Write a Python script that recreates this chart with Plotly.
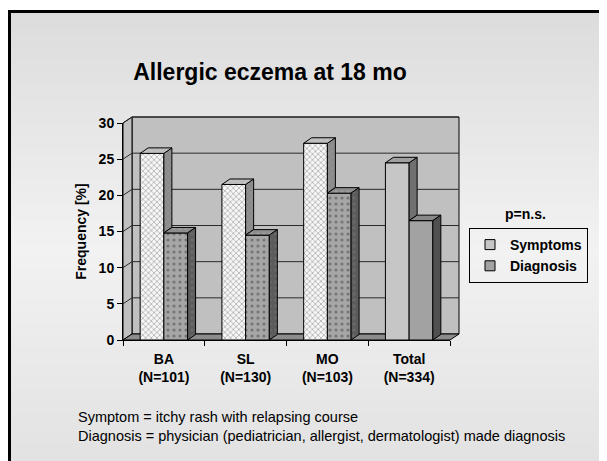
import plotly.graph_objects as go

# ---------------- data ----------------
categories = ["BA", "SL", "MO", "Total"]
n_sizes = [101, 130, 103, 334]
series_names = ["Symptoms", "Diagnosis"]
symptoms = [25.8, 21.5, 27.2, 24.5]
diagnosis = [14.8, 14.5, 20.3, 16.5]
y_ticks = [0, 5, 10, 15, 20, 25, 30]
title_text = "Allergic eczema at 18 mo"
note_text = "p=n.s."
footnotes = ["Symptom = itchy rash with relapsing course",
             "Diagnosis = physician (pediatrician, allergist, dermatologist) made diagnosis"]

# ---------------- geometry / style ----------------
OFF = 8                      # page body margin
W, H = 607 - OFF, 461 - OFF
L, T = 123 - OFF, 123 - OFF  # plot area in figure px
PX1, PY1 = 450 - OFF, 340 - OFF
R, B = W - PX1, H - PY1
PW, PH = PX1 - L, PY1 - T
FONT = "Liberation Sans, Arial, sans-serif"
BAR_W = 0.29
DX = 0.098          # bar depth in x units
DY = 0.76           # bar depth in value units
WALL_DX, WALL_DY = 9, 6   # back wall offset in px
patterned = [True, True, True, False]


def pxx(sx):
    """screen x -> paper x"""
    return (sx - OFF - L) / PW


def pxy(sy):
    """screen y -> paper y"""
    return (PY1 - (sy - OFF)) / PH


def val_sy(v):
    return OFF + PY1 - v / 30.0 * PH


shapes = []


def grey(sy):
    if sy < 250:
        g = 220 + (242 - 220) * (sy - 10) / 240
    else:
        g = 242 + (226 - 242) * (sy - 250) / 211
    g = int(round(g))
    return f"rgb({g},{g},{g})"


step = 6
y0 = 11
while y0 < 461:
    y1 = min(y0 + step, 462)
    shapes.append(dict(type="rect", xref="paper", yref="paper", layer="below",
                       x0=pxx(10), x1=pxx(620), y0=pxy(y0), y1=pxy(y1 + 0.5),
                       fillcolor=grey((y0 + y1) / 2), line=dict(width=0)))
    y0 = y1
# slide border
shapes.append(dict(type="path", xref="paper", yref="paper", layer="below",
                   path=f"M {pxx(9.5)},{pxy(470)} L {pxx(9.5)},{pxy(11.5)} L {pxx(620)},{pxy(11.5)}",
                   line=dict(color="black", width=3)))

fx0, fx1 = 123, 450
fy_top, fy0 = 123, 340
bx0, bx1 = fx0 + WALL_DX, fx1 + WALL_DX
by_top, by0 = fy_top - WALL_DY, fy0 - WALL_DY
wall_col = "#c0c0c0"
shapes.append(dict(type="rect", xref="paper", yref="paper", layer="below",
                   x0=pxx(bx0), x1=pxx(bx1), y0=pxy(by0), y1=pxy(by_top),
                   fillcolor=wall_col, line=dict(color="black", width=1)))
shapes.append(dict(type="path", xref="paper", yref="paper", layer="below",
                   path=(f"M {pxx(fx0)},{pxy(fy0)} L {pxx(fx0)},{pxy(fy_top)} "
                         f"L {pxx(bx0)},{pxy(by_top)} L {pxx(bx0)},{pxy(by0)} Z"),
                   fillcolor=wall_col, line=dict(color="black", width=1)))
shapes.append(dict(type="path", xref="paper", yref="paper", layer="below",
                   path=(f"M {pxx(fx0)},{pxy(fy0)} L {pxx(bx0)},{pxy(by0)} "
                         f"L {pxx(bx1)},{pxy(by0)} L {pxx(fx1)},{pxy(fy0)} Z"),
                   fillcolor="#8c8c8c", line=dict(color="black", width=1)))
for v in y_ticks[1:]:
    sy = val_sy(v)
    shapes.append(dict(type="path", xref="paper", yref="paper", layer="below",
                       path=(f"M {pxx(fx0)},{pxy(sy)} L {pxx(bx0)},{pxy(sy - WALL_DY)} "
                             f"L {pxx(bx1)},{pxy(sy - WALL_DY)}"),
                       line=dict(color="#2a2a2a", width=1)))

fig = go.Figure()

xs = list(range(len(categories)))
tick_text = [f"<b>{c}<br>(N={n})</b>" for c, n in zip(categories, n_sizes)]

fig.add_trace(go.Bar(
    x=xs, y=symptoms, name=series_names[0], width=BAR_W, offset=-BAR_W,
    marker=dict(color=["#f6f6f6" if p else "#c6c6c6" for p in patterned],
                line=dict(color="black", width=1),
                pattern=dict(shape=["x" if p else "" for p in patterned],
                             fgcolor="#d2d2d2", size=4, solidity=0.3)),
    showlegend=False, hoverinfo="skip"))
fig.add_trace(go.Bar(
    x=xs, y=diagnosis, name=series_names[1], width=BAR_W, offset=0,
    marker=dict(color=["#a6a6a6" if p else "#a2a2a2" for p in patterned],
                line=dict(color="black", width=1),
                pattern=dict(shape=["." if p else "" for p in patterned],
                             fgcolor="#ececec", size=6, solidity=0.22)),
    showlegend=False, hoverinfo="skip"))


def poly_trace(polys, fill, pattern=None):
    xx, yy = [], []
    for pts in polys:
        for (a, b) in pts:
            xx.append(a)
            yy.append(b)
        xx.append(pts[0][0])
        yy.append(pts[0][1])
        xx.append(None)
        yy.append(None)
    kw = dict(x=xx, y=yy, mode="lines", fill="toself", fillcolor=fill,
              line=dict(color="black", width=1), showlegend=False, hoverinfo="skip")
    if pattern:
        kw["fillpattern"] = pattern
    return go.Scatter(**kw)


def side(xr, lo, hi):
    return [(xr, lo), (xr + DX, lo + DY), (xr + DX, hi + DY), (xr, hi)]


def top(xl, xr, v):
    return [(xl, v), (xl + DX, v + DY), (xr + DX, v + DY), (xr, v)]


for pat_flag in (True, False):
    idx = [i for i in xs if patterned[i] == pat_flag]
    s_side = [side(i, diagnosis[i], symptoms[i]) for i in idx]
    s_top = [top(i - BAR_W, i, symptoms[i]) for i in idx]
    d_top = [top(i, i + BAR_W, diagnosis[i]) for i in idx]
    d_side = [side(i + BAR_W, 0, diagnosis[i]) for i in idx]
    if pat_flag:
        fig.add_trace(poly_trace(s_side, "#8a8a8a", dict(shape="x", fgcolor="#a4a4a4", size=4, solidity=0.3)))
        fig.add_trace(poly_trace(s_top, "#bcbcbc", dict(shape="x", fgcolor="#d4d4d4", size=4, solidity=0.3)))
        fig.add_trace(poly_trace(d_top, "#8e8e8e", dict(shape=".", fgcolor="#b4b4b4", size=6, solidity=0.22)))
        fig.add_trace(poly_trace(d_side, "#5c5c5c", dict(shape=".", fgcolor="#7a7a7a", size=6, solidity=0.22)))
    else:
        fig.add_trace(poly_trace(s_side, "#707070"))
        fig.add_trace(poly_trace(s_top, "#a0a0a0"))
        fig.add_trace(poly_trace(d_top, "#888888"))
        fig.add_trace(poly_trace(d_side, "#505050"))

for nm, col in zip(series_names, ["#c6c6c6", "#a2a2a2"]):
    fig.add_trace(go.Scatter(x=[None], y=[None], mode="markers", name=nm,
                             marker=dict(symbol="square", size=10, color=col,
                                         line=dict(color="black", width=1))))

annotations = [
    dict(text=f"<b>{note_text}</b>", xref="paper", yref="paper",
         x=pxx(525), y=pxy(214), xanchor="center", yanchor="middle", showarrow=False,
         font=dict(family=FONT, size=14, color="black")),
    dict(text=footnotes[0], xref="paper", yref="paper", x=pxx(76), y=pxy(417),
         xanchor="left", yanchor="middle", showarrow=False,
         font=dict(family=FONT, size=14.5, color="black")),
    dict(text=footnotes[1], xref="paper", yref="paper", x=pxx(76), y=pxy(436),
         xanchor="left", yanchor="middle", showarrow=False,
         font=dict(family=FONT, size=14.5, color="black")),
]

fig.update_layout(
    width=W, height=H, autosize=False,
    margin=dict(l=L, r=R, t=T, b=B, pad=0),
    paper_bgcolor="white", plot_bgcolor="rgba(0,0,0,0)",
    barmode="overlay",
    font=dict(family=FONT, color="black"),
    title=dict(text=title_text, x=(270 - OFF) / W, xanchor="center", xref="container",
               y=1 - (72 - OFF) / H, yanchor="middle", yref="container",
               font=dict(family=FONT, size=23, color="black", weight="bold")),
    xaxis=dict(range=[-0.5, 3.5], tickvals=xs, ticktext=tick_text, ticks="",
               showline=True, linecolor="black", linewidth=1, showgrid=False,
               zeroline=False, ticklabelstandoff=6,
               tickfont=dict(family=FONT, size=14, color="black"),
               minor=dict(tickvals=[-0.5, 0.5, 1.5, 2.5, 3.5], ticks="outside",
                          ticklen=5, tickcolor="black", tickwidth=1, showgrid=False)),
    yaxis=dict(range=[0, 30], tickvals=y_ticks, ticks="outside", ticklen=5,
               tickcolor="black", showline=True, linecolor="black", linewidth=1,
               showgrid=False, zeroline=False,
               tickfont=dict(family=FONT, size=14, color="black", weight="bold"),
               title=dict(text="Frequency [%]", standoff=8,
                          font=dict(family=FONT, size=14, color="black", weight="bold"))),
    legend=dict(x=pxx(469), y=pxy(228), xanchor="left", yanchor="top",
                xref="paper", yref="paper", bordercolor="black", borderwidth=1,
                bgcolor="rgba(0,0,0,0)", itemwidth=30,
                font=dict(family=FONT, size=14, color="black", weight="bold"),
                tracegroupgap=0),
    shapes=shapes,
    annotations=annotations,
)

fig.write_html("out.html")
